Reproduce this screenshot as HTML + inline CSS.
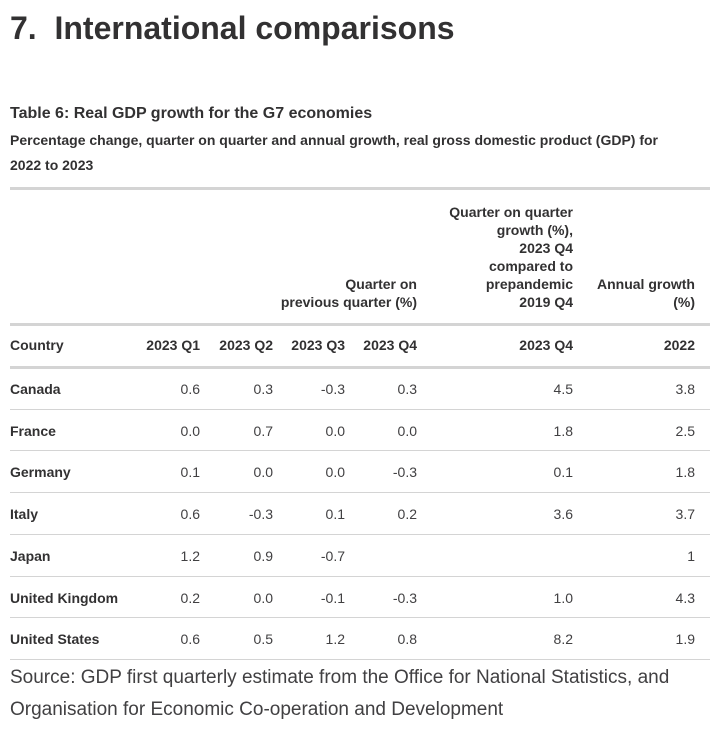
<!DOCTYPE html>
<html><head><meta charset="utf-8">
<style>
html,body{margin:0;padding:0;background:#fff;}
body{width:724px;height:730px;position:relative;overflow:hidden;font-family:"Liberation Sans",sans-serif;color:#323132;}
.abs{position:absolute;white-space:nowrap;}
.b{font-weight:bold;}
.r{text-align:right;}
.hl{position:absolute;left:10px;width:700px;background:#d4d4d4;}
.cell{position:absolute;font-size:14px;}
</style></head>
<body>
<div class="abs b" style="left:10px;top:10px;font-size:32px;">7.&nbsp; International comparisons</div>
<div class="abs b" style="left:10px;top:105px;font-size:16px;">Table 6: Real GDP growth for the G7 economies</div>
<div class="abs b" style="left:10px;top:128px;font-size:14px;line-height:25px;">Percentage change, quarter on quarter and annual growth, real gross domestic product (GDP) for<br>2022 to 2023</div>

<div class="hl" style="top:187px;height:3px;"></div>
<div class="abs b r" style="right:307px;top:275px;font-size:14px;line-height:18px;">Quarter on<br>previous quarter (%)</div>
<div class="abs b r" style="right:151px;top:203px;font-size:14px;line-height:18px;">Quarter on quarter<br>growth (%),<br>2023 Q4<br>compared to<br>prepandemic<br>2019 Q4</div>
<div class="abs b r" style="right:29px;top:275px;font-size:14px;line-height:18px;">Annual growth<br>(%)</div>
<div class="hl" style="top:323px;height:3px;"></div>
<div id="sub"></div>
<div class="hl" style="top:366px;height:3px;"></div>
<div id="rows"></div>

<div class="abs" style="left:10px;top:662px;font-size:19px;line-height:32px;color:#414042;">Source: GDP first quarterly estimate from the Office for National Statistics, and<br>Organisation for Economic Co-operation and Development</div>

<script>
const subHeaders = ["Country","2023 Q1","2023 Q2","2023 Q3","2023 Q4","2023 Q4","2022"];
const countries = ["Canada","France","Germany","Italy","Japan","United Kingdom","United States"];
const q1 = ["0.6","0.0","0.1","0.6","1.2","0.2","0.6"];
const q2 = ["0.3","0.7","0.0","-0.3","0.9","0.0","0.5"];
const q3 = ["-0.3","0.0","0.0","0.1","-0.7","-0.1","1.2"];
const q4 = ["0.3","0.0","-0.3","0.2","","-0.3","0.8"];
const vsPre = ["4.5","1.8","0.1","3.6","","1.0","8.2"];
const annual = ["3.8","2.5","1.8","3.7","1","4.3","1.9"];

const colRight = [null,200,273,345,417,573,695];
const sub = document.getElementById('sub');
subHeaders.forEach((t,i)=>{
  const d=document.createElement('div');
  d.className='cell b';
  
  
  d.textContent=t;
  d.style.top='337px';
  if(i===0){d.style.left='10px';} else {d.style.right=(724-colRight[i])+'px';}
  sub.appendChild(d);
});
const rows=document.getElementById('rows');
const rowH=41.7, top0=368;
countries.forEach((c,r)=>{
  const y=top0+r*rowH;
  const vals=[c,q1[r],q2[r],q3[r],q4[r],vsPre[r],annual[r]];
  vals.forEach((v,i)=>{
    const d=document.createElement('div');
    d.className='cell'+(i===0?' b':'');
    
    
    d.textContent=v;
    d.style.top=(y+13)+'px';
    if(i===0){d.style.left='10px';} else {d.style.right=(724-colRight[i])+'px';d.style.color='#414042';}
    rows.appendChild(d);
  });
  const l=document.createElement('div');
  l.className='hl';
  
  
  l.style.top=(y+rowH-1)+'px';
  l.style.height='1px';
  rows.appendChild(l);
});
</script>
</body></html>
